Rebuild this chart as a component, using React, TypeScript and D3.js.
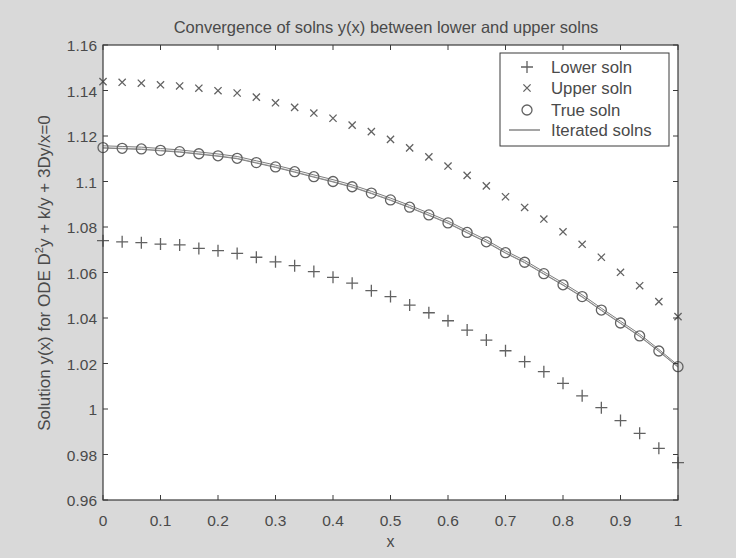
import React from "react";
import * as d3 from "d3";

const xValues: number[] = [
  0, 0.0333, 0.0667, 0.1, 0.1333, 0.1667, 0.2, 0.2333, 0.2667, 0.3, 0.3333,
  0.3667, 0.4, 0.4333, 0.4667, 0.5, 0.5333, 0.5667, 0.6, 0.6333, 0.6667,
  0.7, 0.7333, 0.7667, 0.8, 0.8333, 0.8667, 0.9, 0.9333, 0.9667, 1,
];

const lowerSoln: number[] = [
  1.074, 1.0735, 1.0731, 1.0725, 1.0721, 1.0706, 1.0696, 1.0684, 1.0667,
  1.0647, 1.063, 1.0604, 1.0579, 1.0553, 1.052, 1.0494, 1.0457, 1.0423,
  1.0388, 1.0347, 1.0303, 1.0256, 1.0208, 1.0164, 1.0113, 1.0058, 1.0006,
  0.9949, 0.9893, 0.9827, 0.9764,
];

const upperSoln: number[] = [
  1.1439, 1.1436, 1.1432, 1.1425, 1.142, 1.141, 1.1399, 1.1389, 1.1371,
  1.1346, 1.1326, 1.1301, 1.1278, 1.1248, 1.1219, 1.1185, 1.1148, 1.1108,
  1.1068, 1.1027, 1.0981, 1.0933, 1.0886, 1.0835, 1.0779, 1.0724, 1.0667,
  1.0601, 1.0542, 1.0472, 1.0406,
];

const trueSoln: number[] = [
  1.1149, 1.1146, 1.1143, 1.1137, 1.1131, 1.1122, 1.1113, 1.1102, 1.1083,
  1.1064, 1.1043, 1.1021, 1.1, 1.0977, 1.0949, 1.0919, 1.0887, 1.0853,
  1.0818, 1.0776, 1.0735, 1.0687, 1.0645, 1.0595, 1.0546, 1.0494, 1.0435,
  1.0378, 1.0321, 1.0255, 1.0186,
];

const iteratedA: number[] = [
  1.1157, 1.1154, 1.1151, 1.1145, 1.1139, 1.113, 1.1121, 1.111, 1.1091,
  1.1072, 1.1051, 1.1029, 1.1008, 1.0985, 1.0957, 1.0927, 1.0895, 1.0861,
  1.0826, 1.0784, 1.0743, 1.0695, 1.0653, 1.0603, 1.0554, 1.0502, 1.0443,
  1.0386, 1.0329, 1.0262, 1.0192,
];

const iteratedB: number[] = [
  1.1147, 1.1144, 1.1141, 1.1135, 1.1129, 1.112, 1.1111, 1.11, 1.1081,
  1.1062, 1.1041, 1.1019, 1.0998, 1.0975, 1.0947, 1.0917, 1.0885, 1.0851,
  1.0816, 1.0774, 1.0733, 1.0685, 1.0643, 1.0593, 1.0544, 1.0492, 1.0433,
  1.0376, 1.0319, 1.0253, 1.0184,
];

const xTicks: number[] = [0, 0.1, 0.2, 0.3, 0.4, 0.5, 0.6, 0.7, 0.8, 0.9, 1];
const yTicks: number[] = [0.96, 0.98, 1, 1.02, 1.04, 1.06, 1.08, 1.1, 1.12, 1.14, 1.16];

const legendLabels: string[] = ["Lower soln", "Upper soln", "True soln", "Iterated solns"];

const W = 736;
const H = 558;
const FONT = "'Liberation Sans', Arial, sans-serif";
const TXT = "#4a4a4a";
const MARK = "#626262";

export default function App() {
  const left = 103, right = 678, top = 45, bottom = 500;
  const x = d3.scaleLinear().domain([0, 1]).range([left, right]);
  const y = d3.scaleLinear().domain([0.96, 1.16]).range([bottom, top]);
  const line = d3
    .line<number>()
    .x((_, i) => x(xValues[i]))
    .y((v) => y(v));

  const tl = 5;
  const fmt = (v: number) => String(+v.toFixed(2));

  const plus = (cx: number, cy: number, s: number, key: string) => (
    <path key={key} d={`M${cx - s},${cy}H${cx + s}M${cx},${cy - s}V${cy + s}`} stroke={MARK} strokeWidth={1.3} fill="none" />
  );
  const cross = (cx: number, cy: number, s: number, key: string) => (
    <path key={key} d={`M${cx - s},${cy - s}L${cx + s},${cy + s}M${cx - s},${cy + s}L${cx + s},${cy - s}`} stroke={MARK} strokeWidth={1.3} fill="none" />
  );

  const legX = 500, legY = 53, legW = 169, legH = 93;
  const legRows = [67, 88, 110, 130];

  return (
    <svg width={W} height={H} style={{ position: "absolute", left: 0, top: 0 }} xmlns="http://www.w3.org/2000/svg">
      <rect x={0} y={0} width={W} height={H} fill="#d9d9d9" />
      <rect x={left} y={top} width={right - left} height={bottom - top} fill="#ffffff" />

      {/* iterated lines */}
      <path d={line(iteratedA) || ""} fill="none" stroke="#7d7d7d" strokeWidth={1} />
      <path d={line(iteratedB) || ""} fill="none" stroke="#7d7d7d" strokeWidth={1} />
      <path d={line(trueSoln) || ""} fill="none" stroke="#8d8d8d" strokeWidth={0.8} />

      {/* markers */}
      {lowerSoln.map((v, i) => plus(x(xValues[i]), y(v), 6, "l" + i))}
      {upperSoln.map((v, i) => cross(x(xValues[i]), y(v), 3.6, "u" + i))}
      {trueSoln.map((v, i) => (
        <circle key={"t" + i} cx={x(xValues[i])} cy={y(v)} r={5} fill="none" stroke={MARK} strokeWidth={1.3} />
      ))}

      {/* frame */}
      <rect x={left} y={top} width={right - left} height={bottom - top} fill="none" stroke="#3a3a3a" strokeWidth={1.2} />

      {/* x ticks */}
      {xTicks.map((t) => (
        <g key={"xt" + t}>
          <line x1={x(t)} x2={x(t)} y1={bottom} y2={bottom - tl} stroke="#3a3a3a" />
          <line x1={x(t)} x2={x(t)} y1={top} y2={top + tl} stroke="#3a3a3a" />
          <text x={x(t)} y={526} textAnchor="middle" fontFamily={FONT} fontSize={15.5} fill={TXT}>
            {fmt(t)}
          </text>
        </g>
      ))}
      {/* y ticks */}
      {yTicks.map((t) => (
        <g key={"yt" + t}>
          <line x1={left} x2={left + tl} y1={y(t)} y2={y(t)} stroke="#3a3a3a" />
          <line x1={right} x2={right - tl} y1={y(t)} y2={y(t)} stroke="#3a3a3a" />
          <text x={97} y={y(t) + 6} textAnchor="end" fontFamily={FONT} fontSize={15.5} fill={TXT}>
            {fmt(t)}
          </text>
        </g>
      ))}

      {/* title */}
      <text x={386} y={33} textAnchor="middle" fontFamily={FONT} fontSize={16.5} fill={TXT}>
        Convergence of solns y(x) between lower and upper solns
      </text>
      {/* x label */}
      <text x={(left + right) / 2} y={547} textAnchor="middle" fontFamily={FONT} fontSize={16} fill={TXT}>
        x
      </text>
      {/* y label */}
      <text
        transform={`translate(50,273) rotate(-90)`}
        textAnchor="middle"
        fontFamily={FONT}
        fontSize={17}
        fill={TXT}
      >
        Solution y(x) for ODE D<tspan fontSize={11} dy={-7}>2</tspan>
        <tspan dy={7}>y + k/y + 3Dy/x=0</tspan>
      </text>

      {/* legend */}
      <rect x={legX} y={legY} width={legW} height={legH} fill="#ffffff" stroke="#3a3a3a" strokeWidth={1} />
      {plus(527, legRows[0], 6, "lg0")}
      {cross(527, legRows[1], 3.6, "lg1")}
      <circle cx={527} cy={legRows[2]} r={5} fill="none" stroke={MARK} strokeWidth={1.3} />
      <line x1={509} x2={540} y1={legRows[3]} y2={legRows[3]} stroke="#6a6a6a" strokeWidth={1.2} />
      {legendLabels.map((s, i) => (
        <text key={"lt" + i} x={551} y={legRows[i] + 6} fontFamily={FONT} fontSize={16.8} fill={TXT}>
          {s}
        </text>
      ))}
    </svg>
  );
}
